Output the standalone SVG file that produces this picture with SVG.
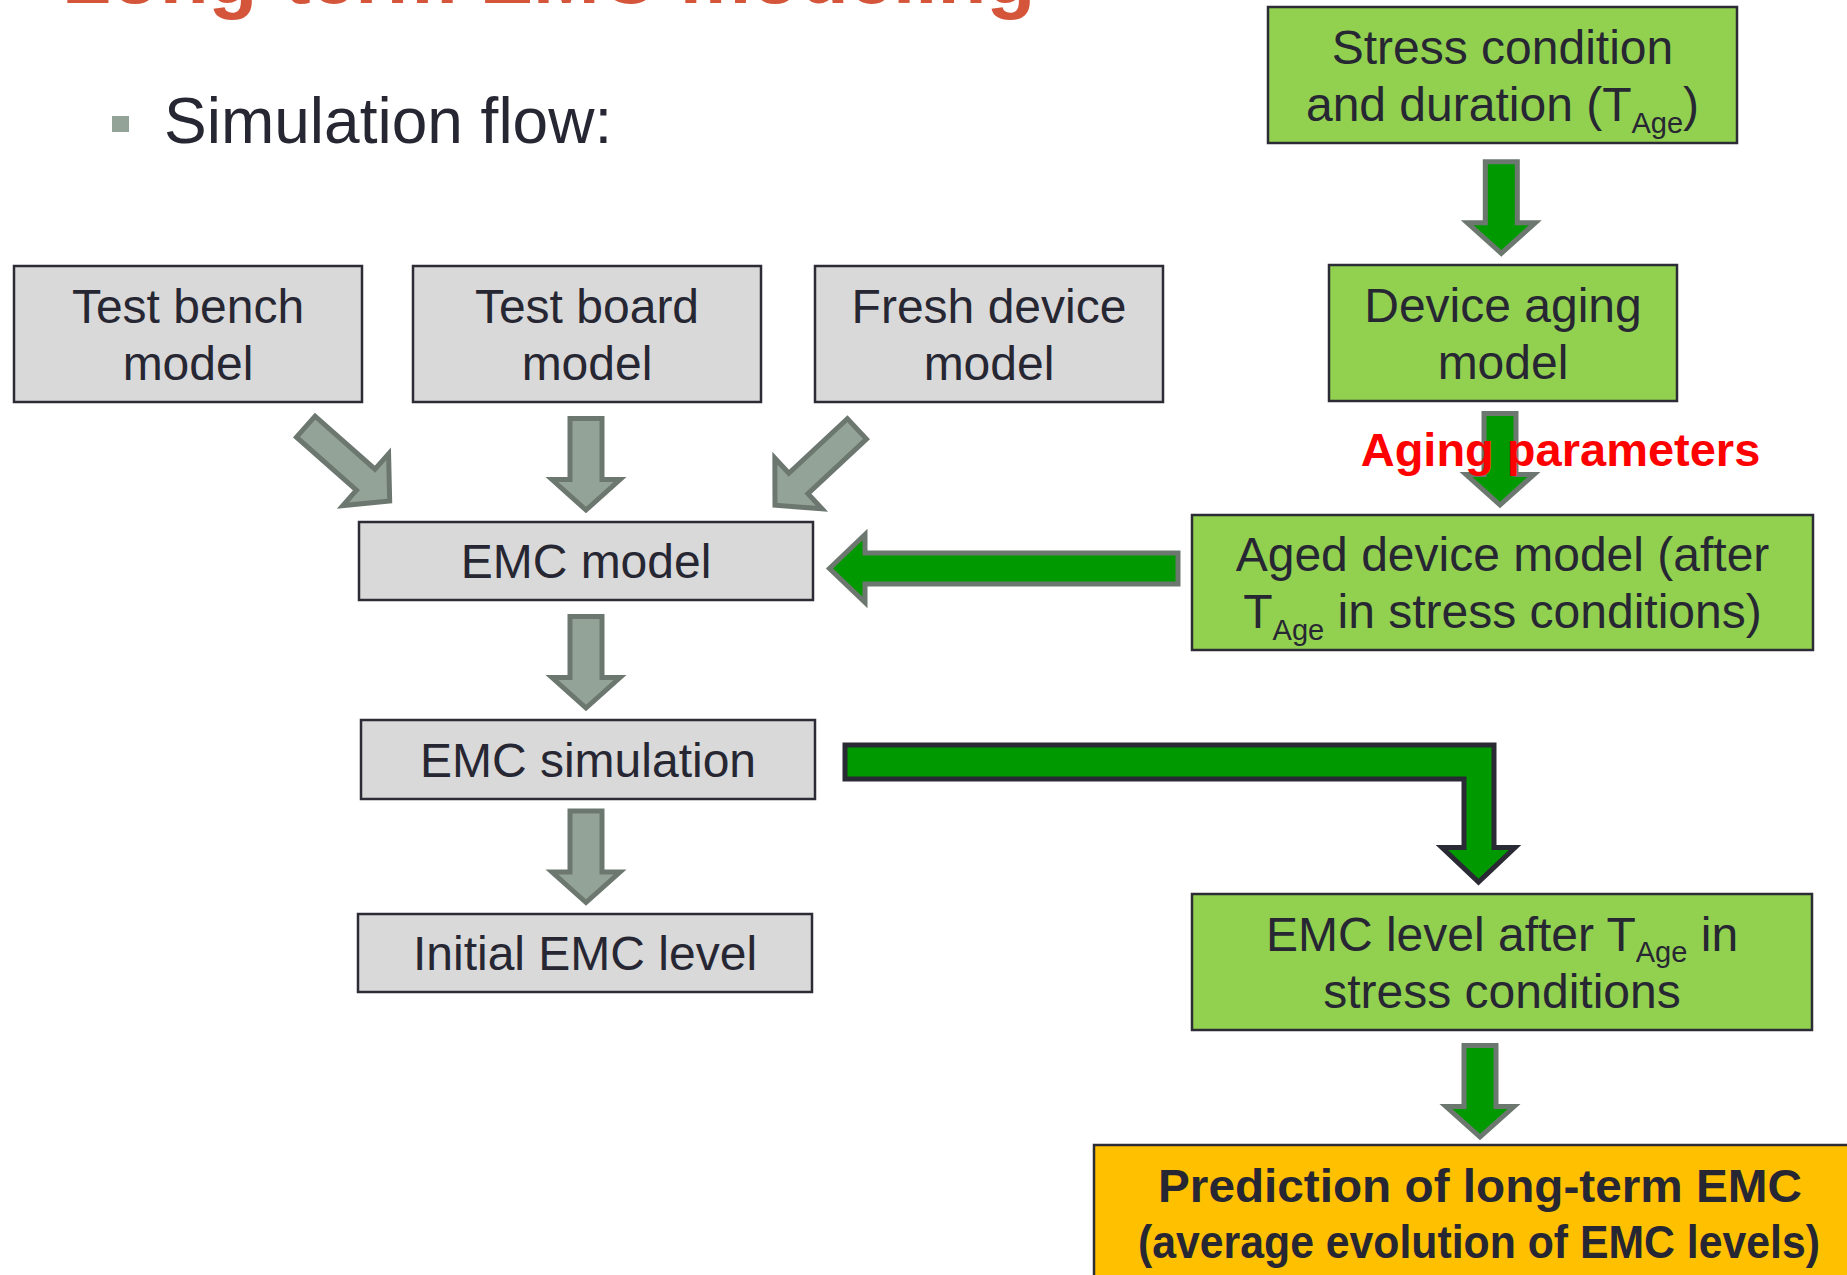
<svg xmlns="http://www.w3.org/2000/svg" width="1847" height="1275" viewBox="0 0 1847 1275">
<style>
.t{font-family:"Liberation Sans",Arial,sans-serif;font-size:48px;fill:#272733;text-anchor:middle}
.grey{fill:#D9D9D9;stroke:#2C2C36;stroke-width:2.5}
.green{fill:#92D050;stroke:#2C2C36;stroke-width:2.5}
.orange{fill:#FFC000;stroke:#2C2C36;stroke-width:2.5}
.ga{fill:#94A397;stroke:#6C786F;stroke-width:5;stroke-linejoin:miter}
.gr{fill:#009900;stroke:#6C786F;stroke-width:5;stroke-linejoin:miter}
.gl{fill:#009900;stroke:#2A2A34;stroke-width:5;stroke-linejoin:miter}
</style>
<defs>
<path id="varrow" d="M-16,0 H16 V61 H34 L0,91.5 L-34,61 H-16 Z"/>
<path id="darrow" d="M-14,0 H14 V80 H34.5 L0,112 L-34.5,80 H-14 Z"/>
</defs>
<rect width="1847" height="1275" fill="#FFFFFF"/>

<text x="62" y="2.5" font-family="'Liberation Sans',Arial,sans-serif" font-weight="bold" font-size="80" fill="#D4553A">Long-term EMC modeling</text>

<rect x="112" y="116" width="17" height="16" fill="#94A397"/>
<text x="164" y="143" font-family="'Liberation Sans',Arial,sans-serif" font-size="64" fill="#272733">Simulation flow:</text>

<g id="connectors">
  <use href="#darrow" class="ga" transform="translate(305.8,426.7) rotate(-48.5)"/>
  <use href="#varrow" class="ga" transform="translate(586,418.5)"/>
  <use href="#darrow" class="ga" transform="translate(856.9,428.9) rotate(47)"/>
  <use href="#varrow" class="ga" transform="translate(586,616.5)"/>
  <use href="#varrow" class="ga" transform="translate(586,811)"/>
  <use href="#varrow" class="gr" transform="translate(1501.3,161.8)"/>
  <use href="#varrow" class="gr" transform="translate(1500,413.5)"/>
  <use href="#varrow" class="gr" transform="translate(1480,1045.5)"/>
  <path class="gr" d="M1178,553 V584 H865 V602.5 L829.5,568.5 L865,534.5 V553 Z"/>
  <path class="gl" d="M845,745 H1494 V847.5 H1515 L1478.5,882 L1442,847.5 H1464 V779 H845 Z"/>
</g>

<g id="stress">
  <rect class="green" x="1268" y="7" width="469" height="136"/>
  <text class="t" x="1502.5" y="63.5">Stress condition</text>
  <text class="t" x="1502.5" y="120.5">and duration (T<tspan font-size="29" dy="12">Age</tspan><tspan dy="-12">)</tspan></text>
</g>

<g id="aging">
  <rect class="green" x="1329" y="265" width="348" height="136"/>
  <text class="t" x="1503" y="321.5">Device aging</text>
  <text class="t" x="1503" y="378.5">model</text>
</g>

<g id="bench">
  <rect class="grey" x="14" y="266" width="348" height="136"/>
  <text class="t" x="188" y="322.5">Test bench</text>
  <text class="t" x="188" y="379.5">model</text>
</g>

<g id="board">
  <rect class="grey" x="413" y="266" width="348" height="136"/>
  <text class="t" x="587" y="322.5">Test board</text>
  <text class="t" x="587" y="379.5">model</text>
</g>

<g id="fresh">
  <rect class="grey" x="815" y="266" width="348" height="136"/>
  <text class="t" x="989" y="322.5">Fresh device</text>
  <text class="t" x="989" y="379.5">model</text>
</g>

<g id="emcmodel">
  <rect class="grey" x="359" y="522" width="454" height="78"/>
  <text class="t" x="586" y="578">EMC model</text>
</g>

<g id="aged">
  <rect class="green" x="1192" y="515" width="621" height="135"/>
  <text class="t" x="1502.5" y="571">Aged device model (after</text>
  <text class="t" x="1502.5" y="628">T<tspan font-size="29" dy="12">Age</tspan><tspan dy="-12"> in stress conditions)</tspan></text>
</g>

<g id="label">
  <text x="1560.5" y="466" font-family="'Liberation Sans',Arial,sans-serif" font-weight="bold" font-size="47" fill="#FF0000" text-anchor="middle">Aging parameters</text>
</g>

<g id="emcsim">
  <rect class="grey" x="361" y="720" width="454" height="79"/>
  <text class="t" x="588" y="777">EMC simulation</text>
</g>

<g id="initial">
  <rect class="grey" x="358" y="914" width="454" height="78"/>
  <text class="t" x="585" y="970">Initial EMC level</text>
</g>

<g id="emclevel">
  <rect class="green" x="1192" y="894" width="620" height="136"/>
  <text class="t" x="1502" y="950.5">EMC level after T<tspan font-size="29" dy="11">Age</tspan><tspan dy="-11"> in</tspan></text>
  <text class="t" x="1502" y="1007.5">stress conditions</text>
</g>

<g id="prediction">
  <rect class="orange" x="1094" y="1145" width="772" height="160"/>
  <text x="1480" y="1201.5" font-family="'Liberation Sans',Arial,sans-serif" font-weight="bold" font-size="46" fill="#272733" text-anchor="middle" textLength="644" lengthAdjust="spacingAndGlyphs">Prediction of long-term EMC</text>
  <text x="1479" y="1258" font-family="'Liberation Sans',Arial,sans-serif" font-weight="bold" font-size="46" fill="#272733" text-anchor="middle" textLength="682" lengthAdjust="spacingAndGlyphs">(average evolution of EMC levels)</text>
</g>
</svg>
